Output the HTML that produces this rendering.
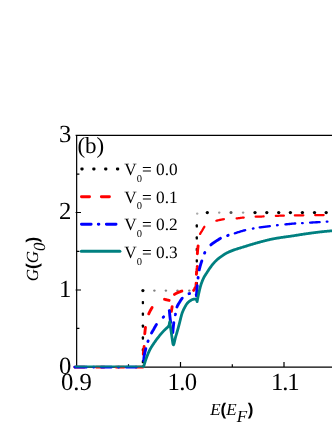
<!DOCTYPE html>
<html>
<head>
<meta charset="utf-8">
<style>
html,body{margin:0;padding:0;background:#fff;}
body{width:332px;height:430px;overflow:hidden;position:relative;font-family:"Liberation Serif",serif;}
svg{position:absolute;left:0;top:0;will-change:transform;}
text{font-family:"Liberation Serif",serif;fill:#000;text-rendering:geometricPrecision;}
.it{font-style:italic;}
.sans{font-family:"Liberation Sans",sans-serif;font-weight:bold;}
</style>
</head>
<body>
<svg width="332" height="430" viewBox="0 0 332 430">
<!-- axes -->
<g stroke="#000" stroke-width="1.2" fill="none">
<path d="M332,135.3 L75.6,135.3 M76.65,135.3 L76.65,367.1 M75.6,367.1 L332,367.1"/>
<path d="M75.6,212.5 H81 M75.6,290 H81"/>
<path d="M76.6,174.1 h2.8 M76.6,251.3 h2.8 M76.6,328.4 h2.8"/>
<path d="M180.5,367.1 V362 M284,367.1 V362"/>
<path d="M128.5,367.1 v-2.9 M232.3,367.1 v-2.9"/>
</g>
<!-- data curves -->
<g fill="#000" stroke="none"><rect x="141.75" y="300.95" width="2.3" height="3.3" rx="0.9"/><rect x="141.75" y="312.55" width="2.3" height="3.3" rx="0.9"/><rect x="141.75" y="324.45" width="2.3" height="3.3" rx="0.9"/><rect x="141.75" y="336.35" width="2.3" height="3.3" rx="0.9"/><rect x="141.75" y="348.15" width="2.3" height="3.3" rx="0.9"/><rect x="141.75" y="360.05" width="2.3" height="3.3" rx="0.9"/><rect x="195.65" y="282.05" width="2.3" height="3.3" rx="0.9"/><rect x="195.65" y="270.65" width="2.3" height="3.3" rx="0.9"/><rect x="195.65" y="259.15" width="2.3" height="3.3" rx="0.9"/><rect x="195.65" y="247.95" width="2.3" height="3.3" rx="0.9"/><rect x="195.65" y="236.25" width="2.3" height="3.3" rx="0.9"/><rect x="195.65" y="224.25" width="2.3" height="3.3" rx="0.9"/><circle cx="142.9" cy="290.6" r="1.6"/><circle cx="207.3" cy="212.6" r="1.65"/><circle cx="219.2" cy="212.6" r="1.2" fill="#999"/><circle cx="231.0" cy="212.6" r="1.5" fill="#555"/><circle cx="243.1" cy="212.6" r="1.2" fill="#999"/><circle cx="255.0" cy="212.6" r="1.65"/><circle cx="266.8" cy="212.6" r="1.65"/><circle cx="278.7" cy="212.6" r="1.65"/><circle cx="290.4" cy="212.6" r="1.65"/><circle cx="302.4" cy="212.6" r="1.65"/><circle cx="314.5" cy="212.6" r="1.65"/><circle cx="326.2" cy="212.6" r="1.65"/><circle cx="154.4" cy="290.6" r="1.2" fill="#808080"/><circle cx="165.9" cy="290.6" r="1.2" fill="#808080"/><circle cx="177.5" cy="290.6" r="1.2" fill="#808080"/><circle cx="189.3" cy="290.6" r="1.2" fill="#808080"/><circle cx="197.2" cy="213.6" r="1.2" fill="#aaa"/></g>
<g fill="none" stroke-linejoin="round" stroke-linecap="round">
<path stroke="#ff0000" stroke-width="2.9" stroke-dasharray="0.00 1.35 8.10 11.80 8.10 11.80 8.10 11.80 7.90 12.00 7.85 12.81 6.45 13.93 7.11 16.34 4.72 16.12 4.82 12.61 8.17 12.14 7.77 8.90 7.96 12.60 7.95 9999.00" d="M74.90,367.10 L143.10,367.10 L143.10,366.42 L143.10,365.75 L143.11,365.07 L143.11,364.39 L143.12,363.72 L143.12,363.04 L143.13,362.37 L143.14,361.69 L143.15,361.02 L143.16,360.34 L143.17,359.67 L143.19,358.99 L143.20,358.32 L143.22,357.64 L143.23,356.97 L143.25,356.29 L143.27,355.62 L143.28,354.95 L143.30,354.27 L143.34,353.60 L143.38,352.93 L143.44,352.26 L143.51,351.59 L143.59,350.91 L143.68,350.24 L143.77,349.57 L143.85,348.90 L143.94,348.23 L144.02,347.56 L144.09,346.89 L144.15,346.22 L144.20,345.54 L144.24,344.87 L144.28,344.20 L144.32,343.52 L144.35,342.85 L144.37,342.17 L144.40,341.50 L144.43,340.82 L144.45,340.15 L144.48,339.47 L144.50,338.80 L144.53,338.12 L144.56,337.45 L144.59,336.77 L144.63,336.10 L144.67,335.43 L144.71,334.75 L144.76,334.08 L144.81,333.41 L144.87,332.73 L144.93,332.06 L145.00,331.39 L145.07,330.72 L145.15,330.05 L145.23,329.37 L145.31,328.70 L145.40,328.03 L145.48,327.36 L145.57,326.70 L145.67,326.03 L145.77,325.36 L145.87,324.69 L145.99,324.03 L146.10,323.36 L146.23,322.70 L146.36,322.03 L146.50,321.37 L146.64,320.71 L146.79,320.06 L146.94,319.40 L147.11,318.74 L147.28,318.09 L147.47,317.44 L147.66,316.79 L147.87,316.14 L148.08,315.51 L148.31,314.87 L148.55,314.25 L148.82,313.63 L149.10,313.02 L149.40,312.41 L149.71,311.80 L150.02,311.20 L150.34,310.60 L150.66,310.01 L150.99,309.42 L151.33,308.84 L151.68,308.27 L152.04,307.69 L152.39,307.11 L152.74,306.53 L153.07,305.94 L153.39,305.33 L153.71,304.72 L154.04,304.12 L154.39,303.55 L154.76,303.00 L155.17,302.50 L155.63,302.01 L156.13,301.53 L156.66,301.08 L157.22,300.67 L157.78,300.32 L158.37,300.01 L158.99,299.72 L159.64,299.47 L160.30,299.32 L160.95,299.27 L161.63,299.24 L162.31,299.22 L162.99,299.20 L163.66,299.21 L164.33,299.28 L164.99,299.40 L165.65,299.56 L166.31,299.73 L166.97,299.89 L167.63,300.04 L168.29,300.20 L168.94,300.36 L169.60,300.53 L170.25,300.70 L170.28,301.37 L170.31,302.04 L170.34,302.71 L170.37,303.37 L170.40,304.04 L170.44,304.71 L170.47,305.38 L170.50,306.05 L170.53,306.72 L170.57,307.38 L170.60,308.05 L170.63,308.80 L170.66,309.65 L170.69,310.54 L170.72,311.41 L170.75,312.20 L170.79,312.85 L170.84,313.30 L170.89,313.50 L170.97,313.31 L171.10,312.72 L171.25,311.90 L171.40,311.04 L171.53,310.32 L171.65,309.66 L171.76,309.00 L171.87,308.34 L171.98,307.68 L172.08,307.02 L172.18,306.35 L172.27,305.69 L172.36,305.03 L172.44,304.36 L172.52,303.70 L172.59,303.03 L172.66,302.37 L172.73,301.70 L172.81,301.04 L172.89,300.37 L172.97,299.71 L173.06,299.04 L173.14,298.33 L173.23,297.62 L173.32,296.92 L173.44,296.26 L173.58,295.66 L173.78,295.14 L174.17,294.67 L174.73,294.25 L175.36,293.86 L175.98,293.51 L176.55,293.20 L177.16,292.92 L177.78,292.65 L178.41,292.40 L179.04,292.17 L179.67,291.94 L180.30,291.68 L180.93,291.41 L181.57,291.17 L182.21,290.99 L182.86,290.90 L183.51,290.90 L184.18,290.90 L184.85,290.90 L185.52,290.90 L186.19,290.90 L186.87,290.90 L187.54,290.90 L188.21,290.90 L188.91,290.93 L189.62,290.98 L190.33,291.05 L191.02,291.11 L191.67,291.17 L192.27,291.20 L192.80,291.13 L193.31,290.77 L193.78,290.19 L194.20,289.53 L194.54,288.93 L194.85,288.35 L195.16,287.75 L195.45,287.12 L195.70,286.47 L195.90,285.82 L196.04,285.16 L196.10,284.51 L196.13,283.86 L196.15,283.21 L196.17,282.54 L196.18,281.88 L196.19,281.21 L196.20,280.54 L196.21,279.86 L196.22,279.18 L196.23,278.51 L196.24,277.83 L196.25,277.16 L196.26,276.48 L196.29,275.81 L196.31,275.14 L196.36,274.48 L196.42,273.81 L196.50,273.15 L196.58,272.48 L196.67,271.82 L196.76,271.15 L196.85,270.49 L196.92,269.82 L197.00,269.16 L197.09,268.49 L197.17,267.83 L197.26,267.16 L197.33,266.50 L197.38,265.83 L197.40,265.16 L197.40,264.49 L197.40,263.83 L197.40,263.16 L197.39,262.49 L197.39,261.82 L197.38,261.15 L197.38,260.48 L197.37,259.81 L197.37,259.14 L197.36,258.47 L197.36,257.80 L197.36,257.13 L197.35,256.46 L197.35,255.79 L197.35,255.12 L197.35,254.46 L197.37,253.79 L197.40,253.12 L197.44,252.45 L197.48,251.79 L197.54,251.12 L197.60,250.45 L197.66,249.78 L197.74,249.12 L197.81,248.45 L197.89,247.78 L197.97,247.12 L198.05,246.45 L198.13,245.79 L198.20,245.12 L198.28,244.46 L198.35,243.79 L198.42,243.12 L198.50,242.44 L198.57,241.77 L198.65,241.09 L198.73,240.41 L198.82,239.74 L198.91,239.07 L199.01,238.40 L199.12,237.74 L199.24,237.09 L199.36,236.44 L199.50,235.81 L199.65,235.18 L199.83,234.57 L200.08,233.96 L200.38,233.37 L200.73,232.79 L201.10,232.21 L201.48,231.64 L201.85,231.07 L202.21,230.49 L202.54,229.91 L202.87,229.31 L203.20,228.70 L203.54,228.10 L203.89,227.52 L204.25,226.96 L204.64,226.43 L205.05,225.95 L205.51,225.50 L206.01,225.07 L206.55,224.66 L207.11,224.27 L207.70,223.90 L208.29,223.56 L208.88,223.26 L209.47,222.98 L210.08,222.71 L210.70,222.46 L211.32,222.22 L211.96,221.99 L212.60,221.78 L213.25,221.57 L213.90,221.38 L214.55,221.20 L215.19,221.03 L215.84,220.86 L216.48,220.70 L217.13,220.54 L217.78,220.38 L218.44,220.22 L219.09,220.07 L219.75,219.93 L220.41,219.79 L221.07,219.66 L221.73,219.54 L222.39,219.43 L223.05,219.33 L223.71,219.24 L224.38,219.16 L225.04,219.10 L225.70,219.04 L226.37,218.99 L227.03,218.95 L227.70,218.91 L228.37,218.87 L229.04,218.84 L229.71,218.81 L230.38,218.78 L231.05,218.75 L231.72,218.72 L232.39,218.69 L233.06,218.65 L233.73,218.62 L234.40,218.58 L235.06,218.53 L235.73,218.48 L236.40,218.42 L237.06,218.35 L237.73,218.28 L238.39,218.20 L239.05,218.11 L239.72,218.02 L240.38,217.93 L241.05,217.84 L241.71,217.75 L242.37,217.67 L243.04,217.59 L243.70,217.51 L244.37,217.45 L245.03,217.39 L245.70,217.34 L246.37,217.29 L247.04,217.24 L247.70,217.19 L248.37,217.14 L249.04,217.10 L249.71,217.06 L250.38,217.02 L251.04,216.98 L251.71,216.94 L252.38,216.91 L253.05,216.87 L253.72,216.84 L254.39,216.81 L255.05,216.77 L255.72,216.74 L256.39,216.72 L257.06,216.69 L257.73,216.66 L258.40,216.64 L259.07,216.62 L259.74,216.59 L260.40,216.57 L261.07,216.54 L261.74,216.52 L262.41,216.50 L263.08,216.47 L263.75,216.44 L264.42,216.42 L265.09,216.39 L265.75,216.36 L266.42,216.32 L267.09,216.29 L267.76,216.25 L268.43,216.22 L269.10,216.18 L269.76,216.14 L270.43,216.10 L271.10,216.07 L271.77,216.03 L272.44,216.00 L273.10,215.97 L273.77,215.94 L274.44,215.91 L275.11,215.88 L275.78,215.86 L276.45,215.84 L277.12,215.81 L277.79,215.79 L278.45,215.77 L279.12,215.75 L279.79,215.73 L280.46,215.71 L281.13,215.69 L281.80,215.68 L282.47,215.66 L283.14,215.64 L283.81,215.63 L284.48,215.61 L285.14,215.60 L285.81,215.58 L286.48,215.57 L287.15,215.56 L287.82,215.55 L288.49,215.53 L289.16,215.52 L289.83,215.51 L290.50,215.50 L291.17,215.49 L291.84,215.48 L292.50,215.47 L293.17,215.46 L293.84,215.45 L294.51,215.44 L295.18,215.43 L295.85,215.42 L296.52,215.41 L297.19,215.40 L297.86,215.39 L298.53,215.38 L299.20,215.38 L299.87,215.37 L300.53,215.36 L301.20,215.35 L301.87,215.34 L302.54,215.33 L303.21,215.32 L303.88,215.31 L304.55,215.30 L305.22,215.29 L305.89,215.28 L306.56,215.27 L307.23,215.26 L307.90,215.25 L308.56,215.24 L309.23,215.23 L309.90,215.22 L310.57,215.20 L311.24,215.19 L311.91,215.18 L312.58,215.17 L313.25,215.16 L313.92,215.15 L314.59,215.14 L315.26,215.13 L315.92,215.12 L316.59,215.11 L317.26,215.10 L317.93,215.09 L318.60,215.08 L319.27,215.07 L319.94,215.06 L320.61,215.05 L321.28,215.04 L321.95,215.03 L322.62,215.03 L323.29,215.02 L323.95,215.01 L324.62,215.00 L325.29,214.99 L325.96,214.99 L326.63,214.98 L327.30,214.97 L327.97,214.97 L328.64,214.96 L329.31,214.95 L329.98,214.95 L330.65,214.94 L331.32,214.94 L331.98,214.93 L332.65,214.93 L333.32,214.92 L333.99,214.91 L334.66,214.91 L335.33,214.90 L336.00,214.90"/>
<path stroke="#ff0000" stroke-width="2.25" stroke-dasharray="0.00 261.32 8.32 13.75 7.60 12.82 7.17 11.92 8.01 12.21 8.00 11.00 8.50 11.90 8.40 11.00 0.20 9999.00" d="M74.90,367.10 L143.10,367.10 L143.10,366.42 L143.10,365.75 L143.11,365.07 L143.11,364.39 L143.12,363.72 L143.12,363.04 L143.13,362.37 L143.14,361.69 L143.15,361.02 L143.16,360.34 L143.17,359.67 L143.19,358.99 L143.20,358.32 L143.22,357.64 L143.23,356.97 L143.25,356.29 L143.27,355.62 L143.28,354.95 L143.30,354.27 L143.34,353.60 L143.38,352.93 L143.44,352.26 L143.51,351.59 L143.59,350.91 L143.68,350.24 L143.77,349.57 L143.85,348.90 L143.94,348.23 L144.02,347.56 L144.09,346.89 L144.15,346.22 L144.20,345.54 L144.24,344.87 L144.28,344.20 L144.32,343.52 L144.35,342.85 L144.37,342.17 L144.40,341.50 L144.43,340.82 L144.45,340.15 L144.48,339.47 L144.50,338.80 L144.53,338.12 L144.56,337.45 L144.59,336.77 L144.63,336.10 L144.67,335.43 L144.71,334.75 L144.76,334.08 L144.81,333.41 L144.87,332.73 L144.93,332.06 L145.00,331.39 L145.07,330.72 L145.15,330.05 L145.23,329.37 L145.31,328.70 L145.40,328.03 L145.48,327.36 L145.57,326.70 L145.67,326.03 L145.77,325.36 L145.87,324.69 L145.99,324.03 L146.10,323.36 L146.23,322.70 L146.36,322.03 L146.50,321.37 L146.64,320.71 L146.79,320.06 L146.94,319.40 L147.11,318.74 L147.28,318.09 L147.47,317.44 L147.66,316.79 L147.87,316.14 L148.08,315.51 L148.31,314.87 L148.55,314.25 L148.82,313.63 L149.10,313.02 L149.40,312.41 L149.71,311.80 L150.02,311.20 L150.34,310.60 L150.66,310.01 L150.99,309.42 L151.33,308.84 L151.68,308.27 L152.04,307.69 L152.39,307.11 L152.74,306.53 L153.07,305.94 L153.39,305.33 L153.71,304.72 L154.04,304.12 L154.39,303.55 L154.76,303.00 L155.17,302.50 L155.63,302.01 L156.13,301.53 L156.66,301.08 L157.22,300.67 L157.78,300.32 L158.37,300.01 L158.99,299.72 L159.64,299.47 L160.30,299.32 L160.95,299.27 L161.63,299.24 L162.31,299.22 L162.99,299.20 L163.66,299.21 L164.33,299.28 L164.99,299.40 L165.65,299.56 L166.31,299.73 L166.97,299.89 L167.63,300.04 L168.29,300.20 L168.94,300.36 L169.60,300.53 L170.25,300.70 L170.28,301.37 L170.31,302.04 L170.34,302.71 L170.37,303.37 L170.40,304.04 L170.44,304.71 L170.47,305.38 L170.50,306.05 L170.53,306.72 L170.57,307.38 L170.60,308.05 L170.63,308.80 L170.66,309.65 L170.69,310.54 L170.72,311.41 L170.75,312.20 L170.79,312.85 L170.84,313.30 L170.89,313.50 L170.97,313.31 L171.10,312.72 L171.25,311.90 L171.40,311.04 L171.53,310.32 L171.65,309.66 L171.76,309.00 L171.87,308.34 L171.98,307.68 L172.08,307.02 L172.18,306.35 L172.27,305.69 L172.36,305.03 L172.44,304.36 L172.52,303.70 L172.59,303.03 L172.66,302.37 L172.73,301.70 L172.81,301.04 L172.89,300.37 L172.97,299.71 L173.06,299.04 L173.14,298.33 L173.23,297.62 L173.32,296.92 L173.44,296.26 L173.58,295.66 L173.78,295.14 L174.17,294.67 L174.73,294.25 L175.36,293.86 L175.98,293.51 L176.55,293.20 L177.16,292.92 L177.78,292.65 L178.41,292.40 L179.04,292.17 L179.67,291.94 L180.30,291.68 L180.93,291.41 L181.57,291.17 L182.21,290.99 L182.86,290.90 L183.51,290.90 L184.18,290.90 L184.85,290.90 L185.52,290.90 L186.19,290.90 L186.87,290.90 L187.54,290.90 L188.21,290.90 L188.91,290.93 L189.62,290.98 L190.33,291.05 L191.02,291.11 L191.67,291.17 L192.27,291.20 L192.80,291.13 L193.31,290.77 L193.78,290.19 L194.20,289.53 L194.54,288.93 L194.85,288.35 L195.16,287.75 L195.45,287.12 L195.70,286.47 L195.90,285.82 L196.04,285.16 L196.10,284.51 L196.13,283.86 L196.15,283.21 L196.17,282.54 L196.18,281.88 L196.19,281.21 L196.20,280.54 L196.21,279.86 L196.22,279.18 L196.23,278.51 L196.24,277.83 L196.25,277.16 L196.26,276.48 L196.29,275.81 L196.31,275.14 L196.36,274.48 L196.42,273.81 L196.50,273.15 L196.58,272.48 L196.67,271.82 L196.76,271.15 L196.85,270.49 L196.92,269.82 L197.00,269.16 L197.09,268.49 L197.17,267.83 L197.26,267.16 L197.33,266.50 L197.38,265.83 L197.40,265.16 L197.40,264.49 L197.40,263.83 L197.40,263.16 L197.39,262.49 L197.39,261.82 L197.38,261.15 L197.38,260.48 L197.37,259.81 L197.37,259.14 L197.36,258.47 L197.36,257.80 L197.36,257.13 L197.35,256.46 L197.35,255.79 L197.35,255.12 L197.35,254.46 L197.37,253.79 L197.40,253.12 L197.44,252.45 L197.48,251.79 L197.54,251.12 L197.60,250.45 L197.66,249.78 L197.74,249.12 L197.81,248.45 L197.89,247.78 L197.97,247.12 L198.05,246.45 L198.13,245.79 L198.20,245.12 L198.28,244.46 L198.35,243.79 L198.42,243.12 L198.50,242.44 L198.57,241.77 L198.65,241.09 L198.73,240.41 L198.82,239.74 L198.91,239.07 L199.01,238.40 L199.12,237.74 L199.24,237.09 L199.36,236.44 L199.50,235.81 L199.65,235.18 L199.83,234.57 L200.08,233.96 L200.38,233.37 L200.73,232.79 L201.10,232.21 L201.48,231.64 L201.85,231.07 L202.21,230.49 L202.54,229.91 L202.87,229.31 L203.20,228.70 L203.54,228.10 L203.89,227.52 L204.25,226.96 L204.64,226.43 L205.05,225.95 L205.51,225.50 L206.01,225.07 L206.55,224.66 L207.11,224.27 L207.70,223.90 L208.29,223.56 L208.88,223.26 L209.47,222.98 L210.08,222.71 L210.70,222.46 L211.32,222.22 L211.96,221.99 L212.60,221.78 L213.25,221.57 L213.90,221.38 L214.55,221.20 L215.19,221.03 L215.84,220.86 L216.48,220.70 L217.13,220.54 L217.78,220.38 L218.44,220.22 L219.09,220.07 L219.75,219.93 L220.41,219.79 L221.07,219.66 L221.73,219.54 L222.39,219.43 L223.05,219.33 L223.71,219.24 L224.38,219.16 L225.04,219.10 L225.70,219.04 L226.37,218.99 L227.03,218.95 L227.70,218.91 L228.37,218.87 L229.04,218.84 L229.71,218.81 L230.38,218.78 L231.05,218.75 L231.72,218.72 L232.39,218.69 L233.06,218.65 L233.73,218.62 L234.40,218.58 L235.06,218.53 L235.73,218.48 L236.40,218.42 L237.06,218.35 L237.73,218.28 L238.39,218.20 L239.05,218.11 L239.72,218.02 L240.38,217.93 L241.05,217.84 L241.71,217.75 L242.37,217.67 L243.04,217.59 L243.70,217.51 L244.37,217.45 L245.03,217.39 L245.70,217.34 L246.37,217.29 L247.04,217.24 L247.70,217.19 L248.37,217.14 L249.04,217.10 L249.71,217.06 L250.38,217.02 L251.04,216.98 L251.71,216.94 L252.38,216.91 L253.05,216.87 L253.72,216.84 L254.39,216.81 L255.05,216.77 L255.72,216.74 L256.39,216.72 L257.06,216.69 L257.73,216.66 L258.40,216.64 L259.07,216.62 L259.74,216.59 L260.40,216.57 L261.07,216.54 L261.74,216.52 L262.41,216.50 L263.08,216.47 L263.75,216.44 L264.42,216.42 L265.09,216.39 L265.75,216.36 L266.42,216.32 L267.09,216.29 L267.76,216.25 L268.43,216.22 L269.10,216.18 L269.76,216.14 L270.43,216.10 L271.10,216.07 L271.77,216.03 L272.44,216.00 L273.10,215.97 L273.77,215.94 L274.44,215.91 L275.11,215.88 L275.78,215.86 L276.45,215.84 L277.12,215.81 L277.79,215.79 L278.45,215.77 L279.12,215.75 L279.79,215.73 L280.46,215.71 L281.13,215.69 L281.80,215.68 L282.47,215.66 L283.14,215.64 L283.81,215.63 L284.48,215.61 L285.14,215.60 L285.81,215.58 L286.48,215.57 L287.15,215.56 L287.82,215.55 L288.49,215.53 L289.16,215.52 L289.83,215.51 L290.50,215.50 L291.17,215.49 L291.84,215.48 L292.50,215.47 L293.17,215.46 L293.84,215.45 L294.51,215.44 L295.18,215.43 L295.85,215.42 L296.52,215.41 L297.19,215.40 L297.86,215.39 L298.53,215.38 L299.20,215.38 L299.87,215.37 L300.53,215.36 L301.20,215.35 L301.87,215.34 L302.54,215.33 L303.21,215.32 L303.88,215.31 L304.55,215.30 L305.22,215.29 L305.89,215.28 L306.56,215.27 L307.23,215.26 L307.90,215.25 L308.56,215.24 L309.23,215.23 L309.90,215.22 L310.57,215.20 L311.24,215.19 L311.91,215.18 L312.58,215.17 L313.25,215.16 L313.92,215.15 L314.59,215.14 L315.26,215.13 L315.92,215.12 L316.59,215.11 L317.26,215.10 L317.93,215.09 L318.60,215.08 L319.27,215.07 L319.94,215.06 L320.61,215.05 L321.28,215.04 L321.95,215.03 L322.62,215.03 L323.29,215.02 L323.95,215.01 L324.62,215.00 L325.29,214.99 L325.96,214.99 L326.63,214.98 L327.30,214.97 L327.97,214.97 L328.64,214.96 L329.31,214.95 L329.98,214.95 L330.65,214.94 L331.32,214.94 L331.98,214.93 L332.65,214.93 L333.32,214.92 L333.99,214.91 L334.66,214.91 L335.33,214.90 L336.00,214.90"/>
<path stroke="#0000ff" stroke-width="2.9" stroke-dasharray="0.00 1.35 10.30 6.85 0.60 7.15 10.30 6.85 0.60 7.15 10.30 13.40 12.35 7.53 0.60 8.65 9.76 9.91 0.60 8.42 11.97 11.75 9.90 8.09 0.60 7.36 10.23 8.27 0.60 7.27 11.48 7.69 0.60 7.71 9.36 8.29 0.60 9.84 11.62 7.69 0.60 9999.00" d="M74.90,367.10 L143.50,367.10 L143.50,366.42 L143.51,365.74 L143.53,365.06 L143.55,364.38 L143.57,363.71 L143.60,363.03 L143.64,362.36 L143.67,361.68 L143.71,361.01 L143.76,360.34 L143.80,359.67 L143.85,359.00 L143.90,358.33 L143.96,357.66 L144.03,356.99 L144.12,356.33 L144.22,355.66 L144.34,354.99 L144.47,354.33 L144.61,353.67 L144.75,353.01 L144.91,352.34 L145.07,351.68 L145.23,351.02 L145.40,350.36 L145.57,349.71 L145.73,349.05 L145.90,348.39 L146.07,347.74 L146.23,347.09 L146.40,346.43 L146.58,345.78 L146.76,345.13 L146.95,344.48 L147.14,343.83 L147.34,343.18 L147.55,342.54 L147.76,341.90 L147.98,341.26 L148.20,340.63 L148.43,339.99 L148.67,339.36 L148.91,338.73 L149.17,338.10 L149.42,337.47 L149.69,336.85 L149.96,336.23 L150.24,335.61 L150.52,335.00 L150.81,334.39 L151.11,333.79 L151.42,333.19 L151.74,332.60 L152.08,332.01 L152.43,331.43 L152.78,330.85 L153.12,330.27 L153.47,329.69 L153.80,329.10 L154.13,328.50 L154.46,327.91 L154.79,327.31 L155.12,326.72 L155.46,326.13 L155.81,325.55 L156.16,324.97 L156.53,324.41 L156.91,323.86 L157.30,323.33 L157.72,322.82 L158.16,322.31 L158.61,321.82 L159.07,321.33 L159.55,320.85 L160.04,320.37 L160.53,319.90 L161.02,319.43 L161.52,318.96 L162.01,318.49 L162.50,318.01 L162.98,317.53 L163.45,317.05 L163.92,316.56 L164.39,316.08 L164.87,315.60 L165.35,315.12 L165.82,314.64 L166.30,314.16 L166.77,313.67 L167.23,313.18 L167.69,312.68 L168.14,312.18 L168.58,311.67 L169.00,311.15 L169.40,310.60 L169.45,311.27 L169.50,311.95 L169.56,312.62 L169.62,313.30 L169.68,313.97 L169.75,314.64 L169.81,315.32 L169.88,315.99 L169.95,316.66 L170.03,317.33 L170.10,318.00 L170.18,318.67 L170.26,319.34 L170.34,320.01 L170.43,320.68 L170.52,321.35 L170.62,322.02 L170.71,322.69 L170.81,323.36 L170.92,324.03 L171.02,324.70 L171.13,325.36 L171.24,326.03 L171.35,326.70 L171.47,327.36 L171.58,328.03 L171.70,328.69 L171.82,329.44 L171.96,330.30 L172.11,331.17 L172.25,331.99 L172.39,332.65 L172.51,333.08 L172.62,333.19 L172.71,332.85 L172.80,332.15 L172.88,331.29 L172.96,330.42 L173.03,329.71 L173.10,329.04 L173.17,328.37 L173.23,327.69 L173.29,327.02 L173.36,326.35 L173.44,325.68 L173.51,325.01 L173.59,324.33 L173.67,323.66 L173.76,322.99 L173.85,322.32 L173.95,321.66 L174.06,320.99 L174.17,320.32 L174.29,319.66 L174.41,318.99 L174.54,318.33 L174.67,317.66 L174.80,317.00 L174.95,316.34 L175.11,315.69 L175.26,315.03 L175.41,314.37 L175.54,313.70 L175.65,313.03 L175.76,312.36 L175.87,311.68 L175.98,311.01 L176.09,310.34 L176.21,309.67 L176.35,309.02 L176.50,308.37 L176.68,307.74 L176.89,307.11 L177.14,306.50 L177.42,305.88 L177.73,305.28 L178.06,304.68 L178.40,304.08 L178.76,303.49 L179.12,302.91 L179.49,302.33 L179.84,301.75 L180.20,301.18 L180.56,300.60 L180.93,300.03 L181.31,299.46 L181.70,298.90 L182.10,298.36 L182.53,297.83 L182.97,297.34 L183.43,296.85 L183.92,296.36 L184.43,295.90 L184.96,295.46 L185.51,295.08 L186.08,294.76 L186.68,294.48 L187.31,294.22 L187.96,293.99 L188.62,293.79 L189.28,293.64 L189.94,293.52 L190.61,293.42 L191.28,293.32 L191.96,293.25 L192.64,293.21 L193.32,293.21 L194.07,293.27 L194.80,293.39 L195.38,293.55 L195.77,293.81 L196.10,294.33 L196.36,295.06 L196.50,295.90 L196.54,295.23 L196.58,294.56 L196.62,293.89 L196.66,293.22 L196.71,292.55 L196.76,291.88 L196.81,291.21 L196.86,290.54 L196.91,289.87 L196.97,289.20 L197.02,288.53 L197.08,287.87 L197.15,287.20 L197.21,286.53 L197.28,285.86 L197.34,285.19 L197.41,284.52 L197.47,283.86 L197.54,283.19 L197.60,282.52 L197.67,281.85 L197.74,281.18 L197.80,280.52 L197.87,279.85 L197.95,279.18 L198.02,278.51 L198.09,277.85 L198.17,277.18 L198.25,276.51 L198.33,275.84 L198.40,275.18 L198.49,274.51 L198.57,273.84 L198.66,273.18 L198.76,272.51 L198.86,271.85 L198.97,271.19 L199.09,270.53 L199.22,269.88 L199.37,269.22 L199.52,268.57 L199.69,267.92 L199.86,267.27 L200.04,266.62 L200.22,265.97 L200.41,265.32 L200.59,264.68 L200.79,264.04 L200.99,263.40 L201.19,262.76 L201.41,262.12 L201.62,261.48 L201.84,260.85 L202.06,260.21 L202.28,259.58 L202.49,258.94 L202.70,258.30 L202.90,257.65 L203.11,257.01 L203.32,256.37 L203.54,255.73 L203.76,255.10 L204.00,254.47 L204.24,253.85 L204.50,253.24 L204.78,252.63 L205.08,252.04 L205.40,251.45 L205.75,250.87 L206.11,250.29 L206.48,249.73 L206.87,249.18 L207.26,248.65 L207.67,248.12 L208.10,247.60 L208.55,247.09 L209.01,246.59 L209.48,246.11 L209.95,245.64 L210.45,245.20 L210.95,244.76 L211.48,244.34 L212.01,243.93 L212.56,243.53 L213.10,243.14 L213.65,242.75 L214.20,242.36 L214.75,241.98 L215.31,241.61 L215.87,241.24 L216.44,240.88 L217.01,240.52 L217.58,240.16 L218.15,239.81 L218.72,239.44 L219.28,239.08 L219.85,238.72 L220.43,238.37 L221.01,238.05 L221.61,237.75 L222.21,237.47 L222.83,237.21 L223.45,236.96 L224.08,236.72 L224.71,236.49 L225.35,236.27 L225.98,236.05 L226.62,235.83 L227.26,235.62 L227.90,235.40 L228.53,235.19 L229.17,234.98 L229.81,234.78 L230.45,234.58 L231.10,234.38 L231.74,234.19 L232.38,234.00 L233.03,233.80 L233.67,233.61 L234.31,233.41 L234.95,233.22 L235.59,233.02 L236.24,232.82 L236.88,232.62 L237.52,232.41 L238.16,232.21 L238.80,232.01 L239.44,231.81 L240.09,231.62 L240.73,231.42 L241.37,231.23 L242.02,231.04 L242.66,230.85 L243.31,230.67 L243.95,230.50 L244.60,230.32 L245.25,230.16 L245.90,230.00 L246.55,229.84 L247.21,229.69 L247.86,229.55 L248.52,229.41 L249.18,229.27 L249.83,229.14 L250.49,229.01 L251.15,228.88 L251.81,228.76 L252.47,228.63 L253.13,228.51 L253.79,228.39 L254.46,228.27 L255.12,228.16 L255.78,228.05 L256.44,227.94 L257.10,227.83 L257.77,227.73 L258.43,227.63 L259.09,227.53 L259.76,227.43 L260.42,227.34 L261.09,227.25 L261.75,227.16 L262.42,227.07 L263.09,226.98 L263.75,226.90 L264.42,226.82 L265.08,226.73 L265.75,226.65 L266.42,226.57 L267.08,226.49 L267.75,226.40 L268.42,226.32 L269.08,226.24 L269.75,226.16 L270.41,226.07 L271.08,225.99 L271.75,225.90 L272.41,225.82 L273.08,225.73 L273.74,225.65 L274.41,225.56 L275.08,225.48 L275.74,225.39 L276.41,225.31 L277.08,225.24 L277.74,225.16 L278.41,225.09 L279.08,225.02 L279.74,224.95 L280.41,224.88 L281.08,224.81 L281.75,224.75 L282.42,224.68 L283.08,224.62 L283.75,224.55 L284.42,224.49 L285.09,224.42 L285.76,224.36 L286.43,224.29 L287.09,224.22 L287.76,224.16 L288.43,224.09 L289.10,224.02 L289.77,223.96 L290.43,223.89 L291.10,223.83 L291.77,223.76 L292.44,223.70 L293.11,223.65 L293.78,223.59 L294.45,223.54 L295.12,223.49 L295.79,223.44 L296.46,223.40 L297.13,223.36 L297.80,223.32 L298.47,223.29 L299.14,223.26 L299.81,223.23 L300.48,223.20 L301.15,223.16 L301.82,223.13 L302.49,223.10 L303.16,223.06 L303.83,223.02 L304.50,222.98 L305.17,222.94 L305.84,222.90 L306.51,222.85 L307.18,222.81 L307.85,222.77 L308.52,222.73 L309.19,222.69 L309.86,222.65 L310.53,222.61 L311.20,222.57 L311.87,222.53 L312.54,222.49 L313.21,222.45 L313.88,222.41 L314.55,222.37 L315.22,222.33 L315.89,222.29 L316.56,222.25 L317.23,222.22 L317.90,222.18 L318.57,222.14 L319.24,222.09 L319.91,222.05 L320.58,222.01 L321.25,221.97 L321.92,221.93 L322.59,221.88 L323.26,221.84 L323.93,221.79 L324.60,221.75 L325.27,221.71 L325.94,221.67 L326.61,221.63 L327.28,221.59 L327.95,221.56 L328.62,221.52 L329.29,221.49 L329.96,221.45 L330.63,221.42 L331.30,221.39 L331.98,221.36 L332.65,221.33 L333.32,221.30 L333.99,221.27 L334.66,221.25 L335.33,221.22 L336.00,221.20"/>
<path stroke="#0000ff" stroke-width="2.35" stroke-dasharray="0.00 291.13 10.83 7.89 0.60 6.32 10.20 7.30 0.60 7.79 9.85 6.86 0.60 7.46 9.52 7.16 0.60 7.26 0.20 9999.00" d="M74.90,367.10 L143.50,367.10 L143.50,366.42 L143.51,365.74 L143.53,365.06 L143.55,364.38 L143.57,363.71 L143.60,363.03 L143.64,362.36 L143.67,361.68 L143.71,361.01 L143.76,360.34 L143.80,359.67 L143.85,359.00 L143.90,358.33 L143.96,357.66 L144.03,356.99 L144.12,356.33 L144.22,355.66 L144.34,354.99 L144.47,354.33 L144.61,353.67 L144.75,353.01 L144.91,352.34 L145.07,351.68 L145.23,351.02 L145.40,350.36 L145.57,349.71 L145.73,349.05 L145.90,348.39 L146.07,347.74 L146.23,347.09 L146.40,346.43 L146.58,345.78 L146.76,345.13 L146.95,344.48 L147.14,343.83 L147.34,343.18 L147.55,342.54 L147.76,341.90 L147.98,341.26 L148.20,340.63 L148.43,339.99 L148.67,339.36 L148.91,338.73 L149.17,338.10 L149.42,337.47 L149.69,336.85 L149.96,336.23 L150.24,335.61 L150.52,335.00 L150.81,334.39 L151.11,333.79 L151.42,333.19 L151.74,332.60 L152.08,332.01 L152.43,331.43 L152.78,330.85 L153.12,330.27 L153.47,329.69 L153.80,329.10 L154.13,328.50 L154.46,327.91 L154.79,327.31 L155.12,326.72 L155.46,326.13 L155.81,325.55 L156.16,324.97 L156.53,324.41 L156.91,323.86 L157.30,323.33 L157.72,322.82 L158.16,322.31 L158.61,321.82 L159.07,321.33 L159.55,320.85 L160.04,320.37 L160.53,319.90 L161.02,319.43 L161.52,318.96 L162.01,318.49 L162.50,318.01 L162.98,317.53 L163.45,317.05 L163.92,316.56 L164.39,316.08 L164.87,315.60 L165.35,315.12 L165.82,314.64 L166.30,314.16 L166.77,313.67 L167.23,313.18 L167.69,312.68 L168.14,312.18 L168.58,311.67 L169.00,311.15 L169.40,310.60 L169.45,311.27 L169.50,311.95 L169.56,312.62 L169.62,313.30 L169.68,313.97 L169.75,314.64 L169.81,315.32 L169.88,315.99 L169.95,316.66 L170.03,317.33 L170.10,318.00 L170.18,318.67 L170.26,319.34 L170.34,320.01 L170.43,320.68 L170.52,321.35 L170.62,322.02 L170.71,322.69 L170.81,323.36 L170.92,324.03 L171.02,324.70 L171.13,325.36 L171.24,326.03 L171.35,326.70 L171.47,327.36 L171.58,328.03 L171.70,328.69 L171.82,329.44 L171.96,330.30 L172.11,331.17 L172.25,331.99 L172.39,332.65 L172.51,333.08 L172.62,333.19 L172.71,332.85 L172.80,332.15 L172.88,331.29 L172.96,330.42 L173.03,329.71 L173.10,329.04 L173.17,328.37 L173.23,327.69 L173.29,327.02 L173.36,326.35 L173.44,325.68 L173.51,325.01 L173.59,324.33 L173.67,323.66 L173.76,322.99 L173.85,322.32 L173.95,321.66 L174.06,320.99 L174.17,320.32 L174.29,319.66 L174.41,318.99 L174.54,318.33 L174.67,317.66 L174.80,317.00 L174.95,316.34 L175.11,315.69 L175.26,315.03 L175.41,314.37 L175.54,313.70 L175.65,313.03 L175.76,312.36 L175.87,311.68 L175.98,311.01 L176.09,310.34 L176.21,309.67 L176.35,309.02 L176.50,308.37 L176.68,307.74 L176.89,307.11 L177.14,306.50 L177.42,305.88 L177.73,305.28 L178.06,304.68 L178.40,304.08 L178.76,303.49 L179.12,302.91 L179.49,302.33 L179.84,301.75 L180.20,301.18 L180.56,300.60 L180.93,300.03 L181.31,299.46 L181.70,298.90 L182.10,298.36 L182.53,297.83 L182.97,297.34 L183.43,296.85 L183.92,296.36 L184.43,295.90 L184.96,295.46 L185.51,295.08 L186.08,294.76 L186.68,294.48 L187.31,294.22 L187.96,293.99 L188.62,293.79 L189.28,293.64 L189.94,293.52 L190.61,293.42 L191.28,293.32 L191.96,293.25 L192.64,293.21 L193.32,293.21 L194.07,293.27 L194.80,293.39 L195.38,293.55 L195.77,293.81 L196.10,294.33 L196.36,295.06 L196.50,295.90 L196.54,295.23 L196.58,294.56 L196.62,293.89 L196.66,293.22 L196.71,292.55 L196.76,291.88 L196.81,291.21 L196.86,290.54 L196.91,289.87 L196.97,289.20 L197.02,288.53 L197.08,287.87 L197.15,287.20 L197.21,286.53 L197.28,285.86 L197.34,285.19 L197.41,284.52 L197.47,283.86 L197.54,283.19 L197.60,282.52 L197.67,281.85 L197.74,281.18 L197.80,280.52 L197.87,279.85 L197.95,279.18 L198.02,278.51 L198.09,277.85 L198.17,277.18 L198.25,276.51 L198.33,275.84 L198.40,275.18 L198.49,274.51 L198.57,273.84 L198.66,273.18 L198.76,272.51 L198.86,271.85 L198.97,271.19 L199.09,270.53 L199.22,269.88 L199.37,269.22 L199.52,268.57 L199.69,267.92 L199.86,267.27 L200.04,266.62 L200.22,265.97 L200.41,265.32 L200.59,264.68 L200.79,264.04 L200.99,263.40 L201.19,262.76 L201.41,262.12 L201.62,261.48 L201.84,260.85 L202.06,260.21 L202.28,259.58 L202.49,258.94 L202.70,258.30 L202.90,257.65 L203.11,257.01 L203.32,256.37 L203.54,255.73 L203.76,255.10 L204.00,254.47 L204.24,253.85 L204.50,253.24 L204.78,252.63 L205.08,252.04 L205.40,251.45 L205.75,250.87 L206.11,250.29 L206.48,249.73 L206.87,249.18 L207.26,248.65 L207.67,248.12 L208.10,247.60 L208.55,247.09 L209.01,246.59 L209.48,246.11 L209.95,245.64 L210.45,245.20 L210.95,244.76 L211.48,244.34 L212.01,243.93 L212.56,243.53 L213.10,243.14 L213.65,242.75 L214.20,242.36 L214.75,241.98 L215.31,241.61 L215.87,241.24 L216.44,240.88 L217.01,240.52 L217.58,240.16 L218.15,239.81 L218.72,239.44 L219.28,239.08 L219.85,238.72 L220.43,238.37 L221.01,238.05 L221.61,237.75 L222.21,237.47 L222.83,237.21 L223.45,236.96 L224.08,236.72 L224.71,236.49 L225.35,236.27 L225.98,236.05 L226.62,235.83 L227.26,235.62 L227.90,235.40 L228.53,235.19 L229.17,234.98 L229.81,234.78 L230.45,234.58 L231.10,234.38 L231.74,234.19 L232.38,234.00 L233.03,233.80 L233.67,233.61 L234.31,233.41 L234.95,233.22 L235.59,233.02 L236.24,232.82 L236.88,232.62 L237.52,232.41 L238.16,232.21 L238.80,232.01 L239.44,231.81 L240.09,231.62 L240.73,231.42 L241.37,231.23 L242.02,231.04 L242.66,230.85 L243.31,230.67 L243.95,230.50 L244.60,230.32 L245.25,230.16 L245.90,230.00 L246.55,229.84 L247.21,229.69 L247.86,229.55 L248.52,229.41 L249.18,229.27 L249.83,229.14 L250.49,229.01 L251.15,228.88 L251.81,228.76 L252.47,228.63 L253.13,228.51 L253.79,228.39 L254.46,228.27 L255.12,228.16 L255.78,228.05 L256.44,227.94 L257.10,227.83 L257.77,227.73 L258.43,227.63 L259.09,227.53 L259.76,227.43 L260.42,227.34 L261.09,227.25 L261.75,227.16 L262.42,227.07 L263.09,226.98 L263.75,226.90 L264.42,226.82 L265.08,226.73 L265.75,226.65 L266.42,226.57 L267.08,226.49 L267.75,226.40 L268.42,226.32 L269.08,226.24 L269.75,226.16 L270.41,226.07 L271.08,225.99 L271.75,225.90 L272.41,225.82 L273.08,225.73 L273.74,225.65 L274.41,225.56 L275.08,225.48 L275.74,225.39 L276.41,225.31 L277.08,225.24 L277.74,225.16 L278.41,225.09 L279.08,225.02 L279.74,224.95 L280.41,224.88 L281.08,224.81 L281.75,224.75 L282.42,224.68 L283.08,224.62 L283.75,224.55 L284.42,224.49 L285.09,224.42 L285.76,224.36 L286.43,224.29 L287.09,224.22 L287.76,224.16 L288.43,224.09 L289.10,224.02 L289.77,223.96 L290.43,223.89 L291.10,223.83 L291.77,223.76 L292.44,223.70 L293.11,223.65 L293.78,223.59 L294.45,223.54 L295.12,223.49 L295.79,223.44 L296.46,223.40 L297.13,223.36 L297.80,223.32 L298.47,223.29 L299.14,223.26 L299.81,223.23 L300.48,223.20 L301.15,223.16 L301.82,223.13 L302.49,223.10 L303.16,223.06 L303.83,223.02 L304.50,222.98 L305.17,222.94 L305.84,222.90 L306.51,222.85 L307.18,222.81 L307.85,222.77 L308.52,222.73 L309.19,222.69 L309.86,222.65 L310.53,222.61 L311.20,222.57 L311.87,222.53 L312.54,222.49 L313.21,222.45 L313.88,222.41 L314.55,222.37 L315.22,222.33 L315.89,222.29 L316.56,222.25 L317.23,222.22 L317.90,222.18 L318.57,222.14 L319.24,222.09 L319.91,222.05 L320.58,222.01 L321.25,221.97 L321.92,221.93 L322.59,221.88 L323.26,221.84 L323.93,221.79 L324.60,221.75 L325.27,221.71 L325.94,221.67 L326.61,221.63 L327.28,221.59 L327.95,221.56 L328.62,221.52 L329.29,221.49 L329.96,221.45 L330.63,221.42 L331.30,221.39 L331.98,221.36 L332.65,221.33 L333.32,221.30 L333.99,221.27 L334.66,221.25 L335.33,221.22 L336.00,221.20"/>
<path stroke="#008080" stroke-width="2" stroke-linecap="butt" d="M74.9,366.5 H143.8"/>
<path stroke="#008080" stroke-width="2.8" stroke-linecap="butt" d="M142.60,366.50 L143.70,366.50 L143.88,365.84 L144.06,365.19 L144.25,364.54 L144.44,363.89 L144.64,363.24 L144.84,362.59 L145.05,361.95 L145.26,361.30 L145.47,360.66 L145.69,360.02 L145.91,359.38 L146.13,358.74 L146.36,358.11 L146.59,357.47 L146.83,356.84 L147.07,356.20 L147.31,355.57 L147.56,354.93 L147.82,354.30 L148.08,353.67 L148.34,353.05 L148.61,352.42 L148.89,351.80 L149.17,351.19 L149.46,350.58 L149.76,349.98 L150.06,349.38 L150.38,348.79 L150.71,348.20 L151.05,347.62 L151.40,347.04 L151.76,346.46 L152.13,345.89 L152.50,345.32 L152.88,344.76 L153.26,344.19 L153.65,343.63 L154.04,343.07 L154.43,342.52 L154.82,341.96 L155.20,341.41 L155.60,340.86 L155.99,340.31 L156.39,339.76 L156.80,339.22 L157.20,338.67 L157.61,338.13 L158.03,337.60 L158.45,337.06 L158.87,336.53 L159.29,336.00 L159.72,335.48 L160.15,334.96 L160.59,334.44 L161.02,333.92 L161.47,333.41 L161.91,332.90 L162.36,332.39 L162.82,331.89 L163.28,331.39 L163.74,330.89 L164.21,330.40 L164.68,329.92 L165.16,329.44 L165.65,328.98 L166.16,328.53 L166.67,328.08 L167.17,327.62 L167.65,327.15 L168.17,326.67 L168.61,326.16 L168.87,325.58 L169.07,324.93 L169.24,324.25 L169.40,323.59 L169.55,322.93 L169.68,322.27 L169.80,321.60 L169.88,322.27 L169.97,322.94 L170.05,323.61 L170.14,324.28 L170.23,324.95 L170.31,325.62 L170.40,326.28 L170.49,326.95 L170.59,327.62 L170.68,328.29 L170.77,328.96 L170.87,329.63 L170.96,330.29 L171.06,330.96 L171.16,331.63 L171.25,332.30 L171.35,332.97 L171.45,333.63 L171.54,334.30 L171.64,334.97 L171.73,335.64 L171.82,336.31 L171.92,336.97 L172.01,337.64 L172.10,338.31 L172.20,338.98 L172.30,339.65 L172.40,340.31 L172.50,340.98 L172.59,341.65 L172.69,342.33 L172.79,343.00 L172.92,343.66 L173.10,344.35 L173.40,344.90 L173.75,344.38 L174.00,343.70 L174.17,343.05 L174.31,342.39 L174.45,341.72 L174.61,341.06 L174.76,340.40 L174.92,339.75 L175.07,339.09 L175.23,338.43 L175.39,337.78 L175.57,337.13 L175.75,336.48 L175.94,335.83 L176.14,335.19 L176.34,334.54 L176.53,333.90 L176.72,333.25 L176.91,332.60 L177.09,331.95 L177.28,331.30 L177.46,330.65 L177.65,330.00 L177.83,329.35 L178.01,328.70 L178.19,328.05 L178.36,327.40 L178.54,326.75 L178.71,326.10 L178.88,325.45 L179.06,324.79 L179.23,324.14 L179.40,323.49 L179.56,322.83 L179.73,322.18 L179.89,321.52 L180.05,320.87 L180.21,320.21 L180.37,319.56 L180.52,318.90 L180.68,318.24 L180.85,317.59 L181.02,316.94 L181.19,316.28 L181.37,315.63 L181.55,314.98 L181.74,314.33 L181.94,313.68 L182.14,313.04 L182.37,312.41 L182.61,311.79 L182.87,311.16 L183.14,310.54 L183.43,309.93 L183.73,309.32 L184.03,308.72 L184.34,308.12 L184.65,307.52 L184.97,306.92 L185.30,306.32 L185.64,305.73 L185.99,305.15 L186.35,304.58 L186.73,304.02 L187.13,303.49 L187.55,302.98 L188.02,302.49 L188.52,302.02 L189.03,301.58 L189.56,301.17 L190.13,300.79 L190.70,300.44 L191.28,300.09 L191.88,299.78 L192.50,299.52 L193.14,299.27 L193.80,299.11 L194.49,299.11 L195.21,299.16 L195.75,299.24 L196.20,299.54 L196.59,300.09 L196.90,300.83 L197.10,301.70 L197.22,301.04 L197.34,300.38 L197.46,299.72 L197.59,299.06 L197.72,298.40 L197.85,297.74 L197.98,297.08 L198.12,296.42 L198.25,295.77 L198.39,295.11 L198.54,294.46 L198.68,293.80 L198.83,293.14 L198.97,292.49 L199.12,291.83 L199.27,291.17 L199.42,290.52 L199.57,289.86 L199.73,289.21 L199.89,288.55 L200.06,287.90 L200.23,287.25 L200.41,286.60 L200.59,285.96 L200.78,285.32 L200.97,284.68 L201.18,284.05 L201.39,283.41 L201.62,282.78 L201.85,282.15 L202.10,281.52 L202.35,280.89 L202.61,280.27 L202.88,279.65 L203.16,279.04 L203.44,278.43 L203.74,277.82 L204.03,277.23 L204.34,276.64 L204.67,276.06 L205.02,275.48 L205.38,274.92 L205.76,274.36 L206.13,273.80 L206.51,273.24 L206.88,272.68 L207.25,272.11 L207.61,271.55 L207.96,270.98 L208.32,270.41 L208.68,269.84 L209.05,269.28 L209.42,268.72 L209.81,268.17 L210.20,267.63 L210.60,267.09 L211.00,266.55 L211.40,266.01 L211.82,265.47 L212.23,264.94 L212.65,264.41 L213.08,263.88 L213.52,263.37 L213.96,262.86 L214.40,262.35 L214.86,261.86 L215.32,261.38 L215.78,260.91 L216.26,260.45 L216.75,260.00 L217.25,259.56 L217.76,259.13 L218.28,258.70 L218.81,258.28 L219.35,257.87 L219.89,257.46 L220.44,257.06 L220.99,256.67 L221.54,256.29 L222.09,255.91 L222.64,255.53 L223.20,255.16 L223.77,254.79 L224.33,254.42 L224.91,254.07 L225.48,253.72 L226.07,253.38 L226.65,253.05 L227.24,252.73 L227.84,252.43 L228.44,252.14 L229.05,251.86 L229.66,251.59 L230.28,251.34 L230.90,251.09 L231.53,250.84 L232.16,250.60 L232.80,250.37 L233.43,250.14 L234.06,249.91 L234.69,249.69 L235.33,249.48 L235.97,249.26 L236.60,249.06 L237.24,248.85 L237.89,248.65 L238.53,248.45 L239.17,248.26 L239.81,248.06 L240.45,247.86 L241.10,247.67 L241.74,247.48 L242.38,247.28 L243.03,247.09 L243.67,246.90 L244.31,246.70 L244.95,246.50 L245.59,246.30 L246.23,246.10 L246.87,245.90 L247.51,245.69 L248.15,245.49 L248.79,245.28 L249.43,245.08 L250.07,244.88 L250.72,244.69 L251.36,244.49 L252.00,244.30 L252.65,244.11 L253.29,243.92 L253.94,243.74 L254.58,243.55 L255.23,243.37 L255.87,243.18 L256.52,243.00 L257.17,242.82 L257.81,242.64 L258.46,242.46 L259.11,242.28 L259.75,242.11 L260.40,241.93 L261.05,241.75 L261.70,241.58 L262.35,241.41 L263.00,241.24 L263.65,241.07 L264.30,240.90 L264.95,240.74 L265.60,240.58 L266.25,240.41 L266.90,240.25 L267.56,240.09 L268.21,239.94 L268.86,239.78 L269.52,239.63 L270.17,239.48 L270.83,239.33 L271.48,239.19 L272.14,239.05 L272.80,238.92 L273.46,238.79 L274.12,238.67 L274.78,238.55 L275.44,238.44 L276.10,238.33 L276.76,238.21 L277.43,238.11 L278.09,238.00 L278.75,237.90 L279.42,237.79 L280.08,237.69 L280.74,237.59 L281.41,237.49 L282.07,237.39 L282.74,237.29 L283.40,237.19 L284.06,237.10 L284.73,237.01 L285.40,236.91 L286.06,236.82 L286.73,236.73 L287.39,236.64 L288.06,236.55 L288.72,236.46 L289.39,236.37 L290.05,236.28 L290.72,236.19 L291.38,236.09 L292.05,235.99 L292.71,235.89 L293.37,235.79 L294.04,235.69 L294.70,235.58 L295.36,235.47 L296.02,235.36 L296.69,235.25 L297.35,235.15 L298.01,235.04 L298.68,234.93 L299.34,234.82 L300.00,234.71 L300.66,234.61 L301.33,234.50 L301.99,234.40 L302.65,234.30 L303.32,234.20 L303.98,234.10 L304.65,234.00 L305.31,233.91 L305.98,233.81 L306.64,233.71 L307.30,233.62 L307.97,233.52 L308.63,233.43 L309.30,233.33 L309.96,233.24 L310.63,233.15 L311.29,233.06 L311.96,232.97 L312.62,232.88 L313.29,232.79 L313.96,232.70 L314.62,232.61 L315.29,232.52 L315.95,232.44 L316.62,232.35 L317.29,232.27 L317.95,232.19 L318.62,232.11 L319.29,232.03 L319.95,231.96 L320.62,231.88 L321.29,231.81 L321.95,231.74 L322.62,231.67 L323.29,231.60 L323.96,231.53 L324.63,231.47 L325.29,231.40 L325.96,231.34 L326.63,231.27 L327.30,231.21 L327.97,231.15 L328.64,231.09 L329.31,231.03 L329.98,230.97 L330.64,230.91 L331.31,230.86 L331.98,230.80 L332.65,230.75 L333.32,230.69 L333.99,230.64 L334.66,230.60 L335.33,230.55 L336.00,230.50"/>
</g>
<!-- legend lines -->
<g fill="none" stroke-linecap="round">
<g fill="#000"><rect x="80.35" y="167.55" width="3.3" height="2.9" rx="1.1"/><rect x="92.22" y="167.55" width="3.3" height="2.9" rx="1.1"/><rect x="104.09" y="167.55" width="3.3" height="2.9" rx="1.1"/><rect x="115.95" y="167.55" width="3.3" height="2.9" rx="1.1"/></g>
<line x1="81.45" y1="196.7" x2="111" y2="196.7" stroke="#ff0000" stroke-width="2.9" stroke-dasharray="8.1 11.8"/>
<line x1="81.45" y1="224.3" x2="117" y2="224.3" stroke="#0000ff" stroke-width="2.9" stroke-dasharray="9.7 7.15 0.6 7.45"/>
<line x1="81.3" y1="251.2" x2="119.9" y2="251.2" stroke="#008080" stroke-width="3"/>
</g>
<!-- tick labels -->
<g font-size="24.7">
<text x="71.3" y="142.1" text-anchor="end">3</text>
<text x="71.3" y="219.2" text-anchor="end">2</text>
<text x="71.3" y="296.7" text-anchor="end">1</text>
<text x="71.3" y="373.8" text-anchor="end">0</text>
<text x="76.4" y="390.3" text-anchor="middle">0.9</text>
<text x="181.9" y="390.3" text-anchor="middle" letter-spacing="-0.7">1.0</text>
<text x="284.7" y="390.3" text-anchor="middle" letter-spacing="-1.2">1.1</text>
</g>
<text x="77.4" y="153" font-size="23">(b)</text>
<!-- legend text -->
<g font-size="17.3">
<text x="124.3" y="175">V<tspan font-size="10.5" dy="6.7">0</tspan><tspan dy="-6.7">= 0.0</tspan></text>
<text x="124.3" y="202.6">V<tspan font-size="10.5" dy="6.7">0</tspan><tspan dy="-6.7">= 0.1</tspan></text>
<text x="124.3" y="230.3">V<tspan font-size="10.5" dy="6.7">0</tspan><tspan dy="-6.7">= 0.2</tspan></text>
<text x="124.3" y="257.9">V<tspan font-size="10.5" dy="6.7">0</tspan><tspan dy="-6.7">= 0.3</tspan></text>
</g>
<!-- axis labels -->
<text x="210.2" y="414.6" font-size="17"><tspan class="it">E</tspan><tspan class="sans">(</tspan><tspan class="it">E</tspan><tspan class="it" dy="7.1">F</tspan><tspan class="sans" dy="-7.1" dx="0.6">)</tspan></text>
<text transform="translate(38.1,281.3) rotate(-90)" font-size="17"><tspan class="it">G</tspan><tspan class="sans">(</tspan><tspan class="it">G</tspan><tspan class="it" dy="7.1">0</tspan><tspan class="sans" dy="-7.1">)</tspan></text>
</svg>
</body>
</html>
